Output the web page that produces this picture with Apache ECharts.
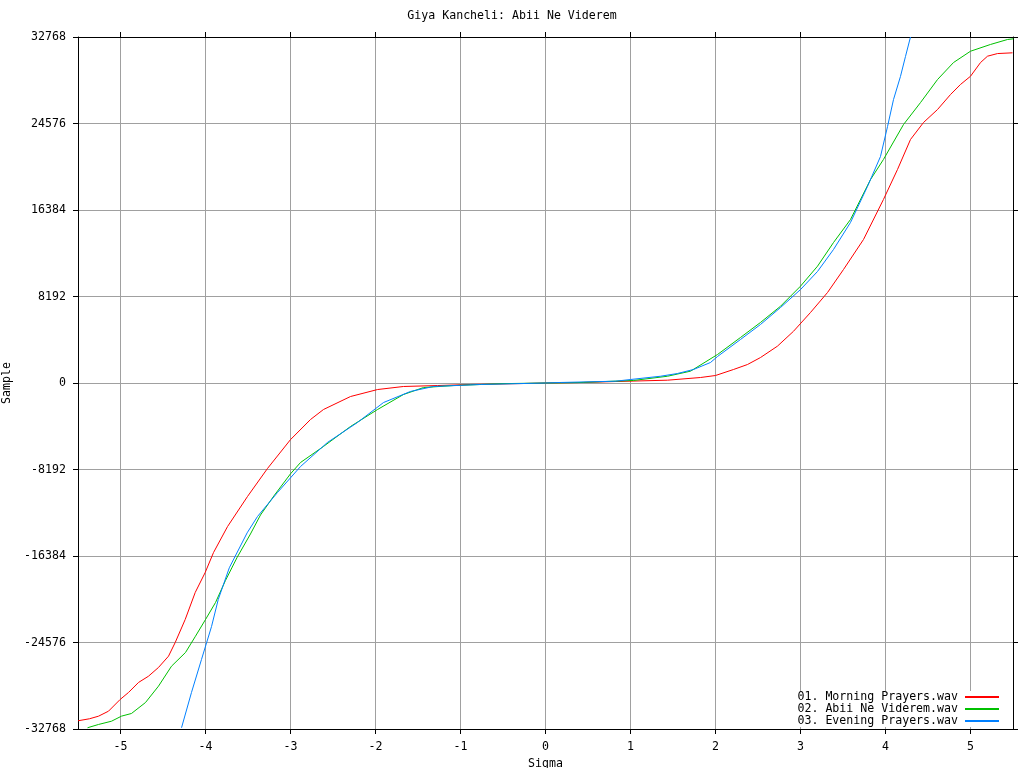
<!DOCTYPE html>
<html>
<head>
<meta charset="utf-8">
<script src="https://cdn.jsdelivr.net/npm/echarts@6/dist/echarts.min.js"></script>
<style>html,body{margin:0;padding:0;background:#fff}#c{width:1024px;height:768px}</style>
</head>
<body>
<div id="c"></div>
<script>
const titleText = 'Giya Kancheli: Abii Ne Viderem';
const seriesNames = ['01. Morning Prayers.wav', '02. Abii Ne Viderem.wav', '03. Evening Prayers.wav'];
const xTicks = [-5, -4, -3, -2, -1, 0, 1, 2, 3, 4, 5];

// [sigma, sample]
const morningPrayers = [
  [-5.50, -31990], [-5.365, -31800], [-5.259, -31555], [-5.141, -31080], [-5.004, -29970],
  [-4.906, -29310], [-4.788, -28360], [-4.671, -27770], [-4.553, -26940], [-4.435, -25870],
  [-4.356, -24570], [-4.239, -22400], [-4.121, -19840], [-4.004, -17950], [-3.906, -16060],
  [-3.741, -13600], [-3.506, -10750], [-3.271, -8100], [-3.0, -5360], [-2.765, -3460],
  [-2.612, -2510], [-2.294, -1280], [-1.976, -620], [-1.671, -330], [-1.271, -240],
  [-0.882, -140], [-0.259, -50], [0, 0], [0.447, 50], [0.824, 140], [1.435, 265],
  [1.824, 520], [2.0, 710], [2.212, 1280], [2.376, 1750], [2.529, 2410], [2.729, 3490],
  [2.918, 4900], [3.118, 6680], [3.318, 8570], [3.506, 10750], [3.741, 13590], [3.976, 17380],
  [4.141, 20220], [4.294, 23060], [4.447, 24670], [4.612, 25900], [4.765, 27320], [4.882, 28270],
  [5.0, 29050], [5.118, 30350], [5.2, 30950], [5.318, 31200], [5.494, 31270]
];
const abiiNeViderem = [
  [-5.388, -32650], [-5.259, -32340], [-5.106, -32030], [-4.988, -31550], [-4.871, -31300],
  [-4.706, -30260], [-4.553, -28710], [-4.4, -26820], [-4.235, -25520], [-4.118, -23980],
  [-4.0, -22400], [-3.882, -20790], [-3.765, -18700], [-3.627, -16500], [-3.471, -14300],
  [-3.353, -12500], [-3.196, -10700], [-3.0, -8600], [-2.882, -7530], [-2.612, -6010], [-2.294, -4120],
  [-1.976, -2510], [-1.671, -1090], [-1.435, -430], [-1.082, -240], [-0.5, -60], [0, 0],
  [0.376, 40], [1.035, 240], [1.435, 640], [1.706, 1120], [2.024, 2700], [2.294, 4310],
  [2.529, 5730], [2.765, 7270], [3.0, 9170], [3.2, 11060], [3.388, 13300], [3.588, 15480],
  [3.824, 19270], [3.976, 21170], [4.212, 24480], [4.412, 26560], [4.612, 28740], [4.8, 30350],
  [5.0, 31420], [5.235, 32060], [5.435, 32530], [5.506, 32600]
];
const eveningPrayers = [
  [-4.282, -32650], [-4.165, -29310], [-4.047, -26180], [-3.929, -23060], [-3.85, -20500],
  [-3.72, -17500], [-3.51, -14190], [-3.388, -12640], [-3.153, -10370],
  [-2.882, -7910], [-2.565, -5630], [-2.212, -3740], [-1.906, -1850], [-1.588, -800],
  [-1.318, -330], [-0.765, -140], [0, 0], [0.176, 50], [0.824, 170], [1.0, 330],
  [1.353, 640], [1.553, 900], [1.741, 1280], [1.941, 1940], [2.024, 2510], [2.294, 4120],
  [2.529, 5540], [2.765, 7150], [3.0, 8850], [3.2, 10560], [3.388, 12640], [3.588, 15200],
  [3.788, 18610], [3.941, 21450], [4.024, 24290], [4.094, 26840], [4.176, 29030],
  [4.235, 30920], [4.294, 32768]
];
const seriesColors = ['#ff0000', '#00c000', '#0080ff'];

const FONT = 'DejaVu Sans Mono';
const FS = 11.6;
const chart = echarts.init(document.getElementById('c'), null, {renderer: 'canvas'});
const mkSeries = (name, data, color) => ({
  name, type: 'line', data, symbol: 'none', smooth: false,
  lineStyle: {color, width: 1}, itemStyle: {color}, xAxisIndex: 0, yAxisIndex: 0,
  animation: false, clip: true
});
chart.setOption({
  animation: false,
  backgroundColor: '#ffffff',
  title: {
    text: titleText, left: 'center', top: 5,
    textStyle: {fontFamily: FONT, fontSize: FS, fontWeight: 'normal', color: '#000'}
  },
  grid: {left: 78, right: 11, top: 37, bottom: 39, containLabel: false, outerBoundsMode: 'none'},
  legend: {
    orient: 'vertical', right: 24, top: 691, align: 'right',
    itemWidth: 34, itemHeight: 11, itemGap: 0, padding: [0, 0, 0, 4],
    backgroundColor: '#ffffff',
    itemStyle: {color: 'rgba(0,0,0,0)', borderWidth: 0, opacity: 0},
    textStyle: {fontFamily: FONT, fontSize: FS, color: '#000', padding: [0, 2, 0, 0]},
    data: seriesNames
  },
  xAxis: [{
    type: 'value', min: -5.5, max: 5.5, position: 'bottom',
    name: 'Sigma', nameLocation: 'middle', nameGap: 28,
    nameTextStyle: {fontFamily: FONT, fontSize: FS, color: '#000'},
    axisLine: {show: true, onZero: false, lineStyle: {color: '#000', width: 1}},
    axisTick: {show: true, inside: false, length: 5, customValues: xTicks, lineStyle: {color: '#000'}},
    axisLabel: {customValues: xTicks, fontFamily: FONT, fontSize: FS, color: '#000', margin: 12},
    splitLine: {show: true, lineStyle: {color: '#a0a0a0', width: 1}}
  }, {
    type: 'value', min: -5.5, max: 5.5, position: 'top',
    axisLine: {show: true, onZero: false, lineStyle: {color: '#000', width: 1}},
    axisTick: {show: true, inside: false, length: 5, customValues: xTicks, lineStyle: {color: '#000'}},
    axisLabel: {show: false},
    splitLine: {show: false}
  }],
  yAxis: [{
    type: 'value', min: -32768, max: 32768, interval: 8192, position: 'left',
    name: 'Sample', nameLocation: 'middle', nameGap: 62, nameRotate: 90,
    nameTextStyle: {fontFamily: FONT, fontSize: FS, color: '#000'},
    axisLine: {show: true, onZero: false, lineStyle: {color: '#000', width: 1}},
    axisTick: {show: true, inside: false, length: 5, lineStyle: {color: '#000'}},
    axisLabel: {fontFamily: FONT, fontSize: FS, color: '#000', margin: 12, formatter: v => String(v)},
    splitLine: {show: true, lineStyle: {color: '#a0a0a0', width: 1}}
  }, {
    type: 'value', min: -32768, max: 32768, interval: 8192, position: 'right',
    axisLine: {show: true, onZero: false, lineStyle: {color: '#000', width: 1}},
    axisTick: {show: true, inside: false, length: 5, lineStyle: {color: '#000'}},
    axisLabel: {show: false},
    splitLine: {show: false}
  }],
  series: [
    mkSeries(seriesNames[0], morningPrayers, seriesColors[0]),
    mkSeries(seriesNames[1], abiiNeViderem, seriesColors[1]),
    mkSeries(seriesNames[2], eveningPrayers, seriesColors[2])
  ]
});
</script>
</body>
</html>
